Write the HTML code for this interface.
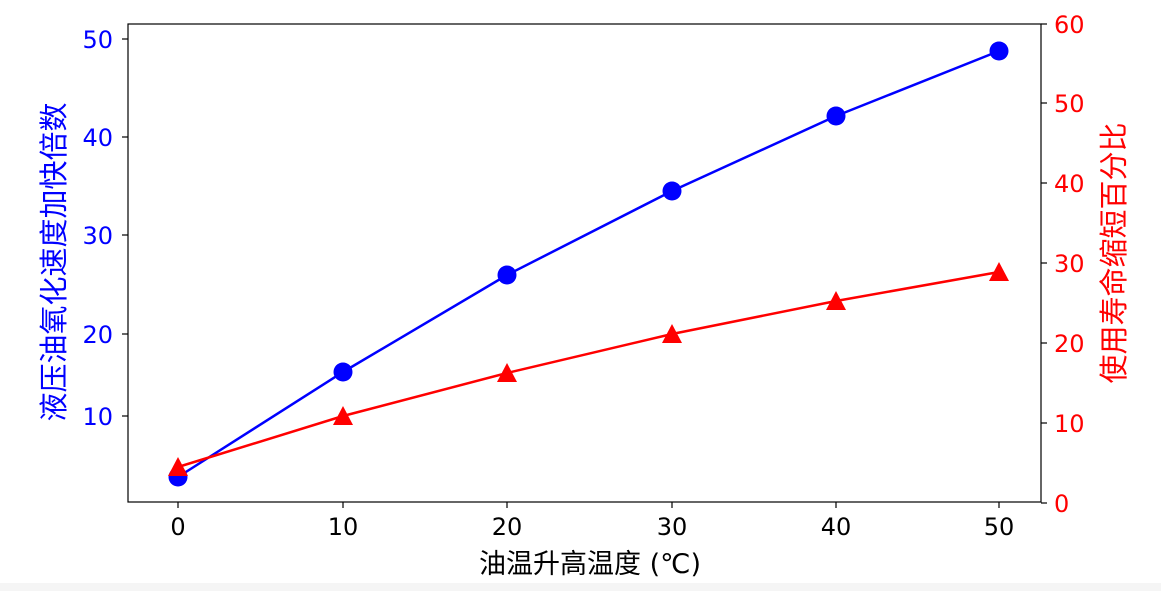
<!DOCTYPE html>
<html><head><meta charset="utf-8"><style>
body{margin:0;background:#fff;}
svg text{font-family:"DejaVu Sans","Noto Sans CJK SC",sans-serif;}
</style></head><body>
<svg width="1161" height="591" xmlns="http://www.w3.org/2000/svg">
<rect width="1161" height="591" fill="#fff"/>
<rect x="0" y="583" width="1161" height="8" fill="#f5f5f5"/>
<rect x="128" y="24" width="913" height="478" fill="none" stroke="#000" stroke-width="1.2"/>
<g stroke="#000" stroke-width="1.2">
<line x1="178" y1="502" x2="178" y2="508"/><line x1="343" y1="502" x2="343" y2="508"/><line x1="507" y1="502" x2="507" y2="508"/><line x1="672" y1="502" x2="672" y2="508"/><line x1="836" y1="502" x2="836" y2="508"/><line x1="999" y1="502" x2="999" y2="508"/>
<line x1="122" y1="39" x2="128" y2="39"/><line x1="122" y1="137" x2="128" y2="137"/><line x1="122" y1="235" x2="128" y2="235"/><line x1="122" y1="334" x2="128" y2="334"/><line x1="122" y1="416" x2="128" y2="416"/>
<line x1="1041" y1="24" x2="1047" y2="24"/><line x1="1041" y1="103" x2="1047" y2="103"/><line x1="1041" y1="183" x2="1047" y2="183"/><line x1="1041" y1="263" x2="1047" y2="263"/><line x1="1041" y1="343" x2="1047" y2="343"/><line x1="1041" y1="423" x2="1047" y2="423"/><line x1="1041" y1="503" x2="1047" y2="503"/>
</g>
<g font-size="24" fill="#000" text-anchor="middle">
<text x="178" y="535">0</text><text x="343" y="535">10</text><text x="507" y="535">20</text><text x="672" y="535">30</text><text x="836" y="535">40</text><text x="999" y="535">50</text>
</g>
<text x="590" y="573" font-size="27" text-anchor="middle">油温升高温度 (℃)</text>
<g font-size="24" fill="#0000ff" text-anchor="end">
<text x="113" y="48">50</text><text x="113" y="146">40</text><text x="113" y="244">30</text><text x="113" y="343">20</text><text x="113" y="425">10</text>
</g>
<g font-size="24" fill="#ff0000" text-anchor="start">
<text x="1054" y="33">60</text><text x="1054" y="112">50</text><text x="1054" y="192">40</text><text x="1054" y="272">30</text><text x="1054" y="352">20</text><text x="1054" y="432">10</text><text x="1054" y="512">0</text>
</g>
<text transform="translate(64,262) rotate(-90)" font-size="29" fill="#0000ff" text-anchor="middle">液压油氧化速度加快倍数</text>
<text transform="translate(1124,253) rotate(-90)" font-size="29" fill="#ff0000" text-anchor="middle">使用寿命缩短百分比</text>
<polyline points="178,477 343,372 507,275 672,191 836,116 999,51" fill="none" stroke="#0000ff" stroke-width="2.5"/>
<polyline points="178,467 343,416 507,373 672,334 836,301 999,272" fill="none" stroke="#ff0000" stroke-width="2.5"/>
<g fill="#0000ff">
<circle cx="178" cy="477" r="9.5"/><circle cx="343" cy="372" r="9.5"/><circle cx="507" cy="275" r="9.5"/><circle cx="672" cy="191" r="9.5"/><circle cx="836" cy="116" r="9.5"/><circle cx="999" cy="51" r="9.5"/>
</g>
<g fill="#ff0000">
<polygon points="178,457 168,476 188,476"/><polygon points="343,406 333,425 353,425"/><polygon points="507,363 497,382 517,382"/><polygon points="672,324 662,343 682,343"/><polygon points="836,291 826,310 846,310"/><polygon points="999,262 989,281 1009,281"/>
</g>
</svg>
</body></html>
